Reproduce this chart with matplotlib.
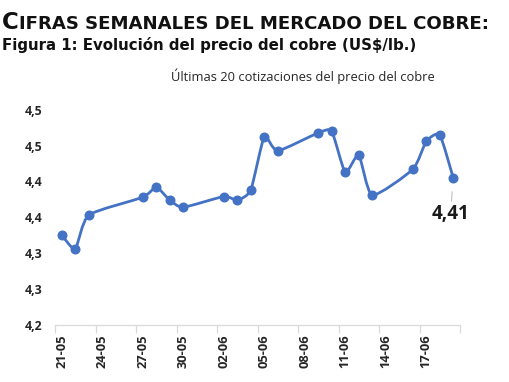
import numpy as np
import matplotlib
matplotlib.use("Agg")
import matplotlib.dates as mdates
from decimal import Decimal, ROUND_HALF_UP
from matplotlib import pyplot as plt
from matplotlib.path import Path
from matplotlib.patches import PathPatch
from matplotlib.ticker import FixedLocator, FuncFormatter

# Ultimas cotizaciones del cobre (US$/lb)
dates = ["2025-05-21", "2025-05-22", "2025-05-23", "2025-05-27", "2025-05-28",
         "2025-05-29", "2025-05-30", "2025-06-02", "2025-06-03", "2025-06-04",
         "2025-06-05", "2025-06-06", "2025-06-09", "2025-06-10", "2025-06-11",
         "2025-06-12", "2025-06-13", "2025-06-16", "2025-06-17", "2025-06-18",
         "2025-06-19"]
prices = [4.325, 4.306, 4.353, 4.378, 4.392, 4.374, 4.364, 4.379, 4.374, 4.388,
          4.462, 4.443, 4.468, 4.470, 4.413, 4.437, 4.381, 4.417, 4.456, 4.465,
          4.405]
y_ticks = [4.20, 4.25, 4.30, 4.35, 4.40, 4.45, 4.50]
label_every = 3

BLUE = "#4472C4"
GREY = "#D9D9D9"
LABEL_FONT = "Open Sans"


def fmt_es(v, nd):
    # redondeo como Excel (mitad hacia arriba) y coma decimal
    q = Decimal(str(round(v, 6))).quantize(Decimal(1).scaleb(-nd), rounding=ROUND_HALF_UP)
    return str(q).replace(".", ",")


def smooth_path(x, y, k=10):
    # curva tipo "linea suavizada" de Excel (Bezier)
    pts = np.column_stack([x, y])
    p = np.vstack([pts[0], pts, pts[-1]])
    verts = [p[1]]
    codes = [Path.MOVETO]
    for i in range(1, len(p) - 2):
        c1 = p[i] + (p[i + 1] - p[i - 1]) / k
        c2 = p[i + 1] - (p[i + 2] - p[i]) / k
        verts += [c1, c2, p[i + 1]]
        codes += [Path.CURVE4] * 3
    return Path(verts, codes)


def main():
    x = mdates.date2num(np.array(dates, dtype="datetime64[D]"))
    y = np.array(prices)

    fig = plt.figure(figsize=(5.1, 3.82), dpi=100)
    ax = fig.add_axes([55 / 510, 1 - 324.5 / 382, 405 / 510, 214.5 / 382])

    patch = PathPatch(smooth_path(x, y), facecolor="none", edgecolor=BLUE,
                      lw=2.0, capstyle="round", joinstyle="round")
    ax.add_patch(patch)
    ax.plot(x, y, linestyle="none", marker="o", ms=6.2, color=BLUE,
            markeredgecolor=BLUE)

    ax.set_xlim(x[0] - 0.5, x[-1] + 0.5)
    ax.set_ylim(y_ticks[0], y_ticks[-1])

    # etiquetas de fecha cada 3 dias, marcas entre dias
    major = np.arange(x[0], x[-1] + 0.5, label_every)
    minor = np.arange(x[0] - 0.5, x[-1] + 1, label_every)
    ax.xaxis.set_major_locator(FixedLocator(major))
    ax.xaxis.set_minor_locator(FixedLocator(minor))
    ax.xaxis.set_major_formatter(mdates.DateFormatter("%d-%m"))
    ax.tick_params(axis="x", which="major", length=0, pad=7, rotation=90,
                   labelsize=9.3, labelcolor="#262626")
    ax.tick_params(axis="x", which="minor", length=6, width=0.9, color=GREY)

    ax.yaxis.set_major_locator(FixedLocator(y_ticks))
    ax.yaxis.set_major_formatter(FuncFormatter(lambda v, _: fmt_es(v, 1)))
    ax.tick_params(axis="y", length=0, pad=9, labelsize=8.8, labelcolor="#262626")

    fig.canvas.draw()
    for lbl in ax.get_xticklabels() + ax.get_yticklabels():
        lbl.set_fontweight("bold")
        lbl.set_fontfamily(LABEL_FONT)

    for s in ["top", "right", "left"]:
        ax.spines[s].set_visible(False)
    ax.spines["bottom"].set_color(GREY)
    ax.spines["bottom"].set_linewidth(0.9)

    # etiqueta del ultimo valor
    ax.annotate(fmt_es(y[-1], 2), xy=(x[-1], y[-1]),
                xytext=(-2, -26), textcoords="offset points",
                ha="center", va="center", fontsize=13.5, fontweight="bold",
                family=LABEL_FONT, color="#1a1a1a",
                arrowprops=dict(arrowstyle="-", color="#BFBFBF", lw=0.8,
                                shrinkA=0, shrinkB=10))

    ax.set_title("Últimas 20 cotizaciones del precio del cobre", family=LABEL_FONT,
                 fontsize=9.3, color="#262626", pad=21, x=0.612)

    # encabezado con versalitas
    r = fig.canvas.get_renderer()
    t = fig.text(2 / 510, 1 - 29 / 382, "C", fontsize=16.5, fontweight="bold",
                 family="DejaVu Sans", va="baseline", color="#111111")
    w = t.get_window_extent(r).width
    fig.text((2 + w) / 510, 1 - 29 / 382, "IFRAS SEMANALES DEL MERCADO DEL COBRE:",
             fontsize=13.1, fontweight="bold", family="DejaVu Sans", va="baseline",
             color="#111111")
    fig.text(2 / 510, 1 - 50 / 382, "Figura 1: Evolución del precio del cobre (US$/lb.)",
             fontsize=10.8, fontweight="bold", family="DejaVu Sans", va="baseline",
             color="#111111")

    fig.savefig("out.png", dpi=100)
    plt.close(fig)


if __name__ == "__main__":
    main()
